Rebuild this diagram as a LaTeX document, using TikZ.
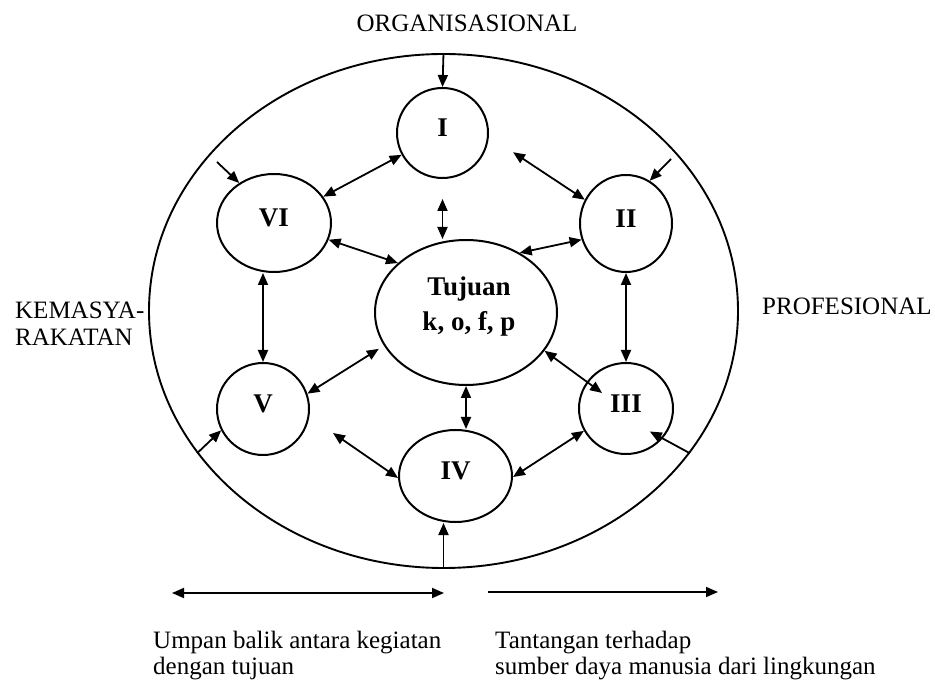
\documentclass[tikz,border=0pt]{standalone}
\usepackage{fontspec}
\setmainfont{Liberation Serif}
\usetikzlibrary{shapes.geometric,arrows.meta,calc}
\begin{document}
\begin{tikzpicture}[x=1pt,y=-1pt,
  blob/.style={ellipse, draw, line width=2pt, inner sep=0pt,
    font=\fontsize{27}{30}\selectfont\bfseries, text depth=10pt},
  lbl/.style={font=\fontsize{25}{26}\selectfont, inner sep=0pt},
  onearrow/.style={-{Triangle[length=12pt,width=10pt]}, line width=1.8pt},
  twoarrow/.style={{Triangle[length=12pt,width=10pt]}-{Triangle[length=12pt,width=10pt]}, line width=1.8pt}]
\useasboundingbox (0,0) rectangle (935,684);
% outer ellipse
\node[ellipse, draw, line width=1.9pt, inner sep=0pt, minimum width=589pt, minimum height=514pt] (outer) at (443.5,311) {};
% inner circles
\node[blob, minimum width=91pt, minimum height=90pt] (I) at (442.5,133) {I};
\node[blob, minimum width=114pt, minimum height=98pt] (VI) at (274,223) {VI};
\node[blob, minimum width=92pt, minimum height=97pt] (II) at (626,223.5) {II};
\node[ellipse, draw, line width=2pt, inner sep=0pt, minimum width=182pt, minimum height=145pt,
  label={[name=Tt, font=\fontsize{27}{35}\selectfont\bfseries, align=center, inner sep=0pt, xshift=3pt, yshift=6pt]center:{Tujuan\\k, o, f, p}}] (T) at (466,312.5) {};
\node[blob, minimum width=92pt, minimum height=92pt] (V) at (263,409) {V};
\node[blob, minimum width=94pt, minimum height=91pt] (III) at (626,408.5) {III};
\node[blob, minimum width=113pt, minimum height=92pt] (IV) at (455.5,476) {IV};
% outside labels
\node[lbl, anchor=base] (org) at (467,32) {ORGANISASIONAL};
\node[lbl, anchor=north west, align=left, font=\fontsize{25}{27}\selectfont] (kem) at (15,302) {KEMASYA-\\RAKATAN};
\node[lbl, anchor=base west] (prof) at (762,315) {PROFESIONAL};
\node[lbl, anchor=north west, align=left] (umpan) at (153,631) {Umpan balik antara kegiatan\\dengan tujuan};
\node[lbl, anchor=north west, align=left] (tant) at (495,631) {Tantangan terhadap\\sumber daya manusia dari lingkungan};
% free ends
\coordinate (c6) at (217,162);
\coordinate (c2) at (671,159);
\coordinate (c54) at (333,433);
\coordinate (bl1) at (172,593);
\coordinate (bl2) at (444,593);
\coordinate (br1) at (488,592);
\coordinate (br2) at (718,592);
% connectors
\draw[onearrow] (outer.north) -- (I.north);
\draw[twoarrow] (VI) -- (I);
\draw[twoarrow, shorten <=29pt] (I.-4) -- (II.150);
\draw[onearrow] (c6) -- (VI.131);
\draw[onearrow] (c2) -- (II.61);
\draw[twoarrow, shorten <=20pt] (I.south) -- (I.south |- T.north);
\draw[twoarrow] (VI.-17) -- (T.144);
\draw[twoarrow] (T.48) -- (II.200);
\draw[twoarrow] (V.north |- VI.south) -- (V.north);
\draw[twoarrow] (II.south) -- (III.north);
\draw[twoarrow, shorten >=6pt] (V.19) -- (T.202);
\draw[twoarrow] (T.-26) -- ($(III.center)!0.6!(III.147)$);
\draw[twoarrow] (T.south) -- (T.south |- IV.north);
\draw[twoarrow] (c54) -- (IV.182);
\draw[twoarrow] (IV.-1) -- (III.208);
\draw[onearrow] (outer.210) -- (V.207);
\draw[onearrow] (outer.-30) -- ($(III.center)!0.7!(III.-44)$);
\draw[onearrow] (outer.south) -- (outer.south |- IV.south);
\draw[twoarrow] (bl1) -- (bl2);
\draw[onearrow] (br1) -- (br2);
\end{tikzpicture}
\end{document}
